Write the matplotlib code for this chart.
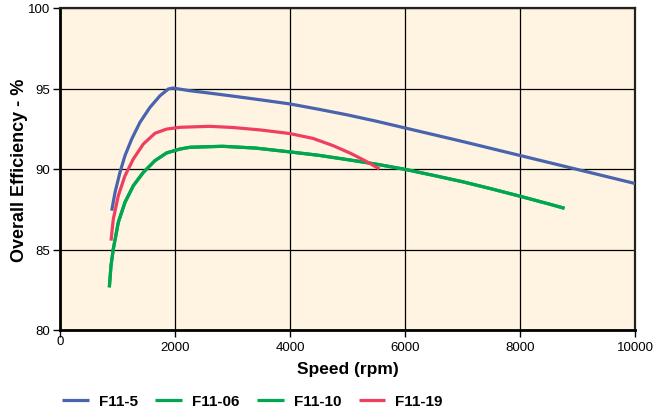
import matplotlib
matplotlib.use("Agg")
import matplotlib.pyplot as plt
import matplotlib.transforms as mtransforms
from matplotlib import font_manager

# ---- data ----
blue_x = [899, 957, 1043, 1130, 1247, 1391, 1565, 1739, 1884, 1965, 2261, 2500, 3000, 3500, 4000, 4500, 5000, 5500, 6000, 7000, 8000, 9000, 10000]
blue_y = [87.41, 88.55, 89.79, 90.83, 91.86, 92.90, 93.83, 94.55, 94.97, 95.03, 94.86, 94.76, 94.53, 94.29, 94.04, 93.71, 93.36, 92.97, 92.55, 91.71, 90.84, 89.97, 89.1]

red_x = [887, 927, 1014, 1130, 1275, 1449, 1652, 1855, 2087, 2261, 2600, 3000, 3500, 4000, 4400, 4750, 5050, 5334, 5557]
red_y = [85.55, 86.89, 88.34, 89.58, 90.62, 91.55, 92.22, 92.48, 92.59, 92.61, 92.65, 92.58, 92.42, 92.2, 91.9, 91.45, 90.98, 90.46, 90.0]

green_x = [858, 887, 927, 1014, 1130, 1275, 1449, 1652, 1855, 2087, 2261, 2828, 3400, 3978, 4500, 5042, 5500, 6000, 6500, 7000, 7500, 8000, 8500, 8774]
green_y = [82.65, 84.0, 85.03, 86.69, 87.93, 88.96, 89.79, 90.52, 91.0, 91.24, 91.35, 91.41, 91.3, 91.07, 90.85, 90.56, 90.30, 89.98, 89.6, 89.21, 88.77, 88.31, 87.83, 87.56]

series_names = ["F11-5", "F11-06", "F11-10", "F11-19"]
series_colors = ["#4a63ae", "#00a650", "#00a650", "#ef3e5e"]

x_ticks = [0, 2000, 4000, 6000, 8000, 10000]
y_ticks = [80, 85, 90, 95, 100]

# ---- fonts ----
avail = {f.name for f in font_manager.fontManager.ttflist}
tick_font = "Liberation Sans Narrow" if "Liberation Sans Narrow" in avail else "Liberation Sans"
tick_size = 10.5 if tick_font == "Liberation Sans Narrow" else 9.5

fig = plt.figure(figsize=(6.63, 4.14), dpi=100)
fig.patch.set_facecolor("white")
ax = fig.add_axes([60 / 663, 1 - 331 / 414, (635 - 60) / 663, (331 - 9) / 414])
ax.set_facecolor("#fef4e1")

lw = 2.3
l1, = ax.plot(blue_x, blue_y, color=series_colors[0], lw=lw, solid_capstyle="butt", solid_joinstyle="round", zorder=3)
l2, = ax.plot(green_x, green_y, color=series_colors[1], lw=lw, solid_capstyle="butt", solid_joinstyle="round", zorder=3)
l3, = ax.plot(green_x, green_y, color=series_colors[2], lw=lw, solid_capstyle="butt", solid_joinstyle="round", zorder=3)
l4, = ax.plot(red_x, red_y, color=series_colors[3], lw=lw, solid_capstyle="butt", solid_joinstyle="round", zorder=3)

ax.set_xlim(0, 10000)
ax.set_ylim(80, 100)
ax.set_xticks(x_ticks)
ax.set_yticks(y_ticks)
ax.set_xticklabels([str(v) for v in x_ticks], fontfamily=tick_font, fontsize=tick_size)
ax.set_yticklabels([str(v) for v in y_ticks], fontfamily=tick_font, fontsize=tick_size)
ax.tick_params(axis="both", direction="out", length=5, width=1, color="black", pad=2)
ax.tick_params(axis="x", pad=3)

# raise the "0" label slightly like the reference
lab0 = ax.get_xticklabels()[0]
lab0.set_transform(lab0.get_transform() + mtransforms.ScaledTranslation(0, 6 / 100, fig.dpi_scale_trans))

ax.grid(True, color="black", lw=0.9, zorder=1)
ax.set_axisbelow(True)
for side in ["left", "bottom"]:
    ax.spines[side].set_linewidth(2.0)
    ax.spines[side].set_color("black")
for side in ["top", "right"]:
    ax.spines[side].set_linewidth(1.6)
    ax.spines[side].set_color("#222222")

ax.set_xlabel("Speed (rpm)", fontfamily="Liberation Sans", fontweight="bold", fontsize=12.5, labelpad=6)
ax.set_ylabel("Overall Efficiency - %", fontfamily="Liberation Sans", fontweight="bold", fontsize=13)
ax.yaxis.set_label_coords(-0.055, 0.5)

leg = fig.legend([l1, l2, l3, l4], series_names, loc="center left",
                 bbox_to_anchor=(62 / 663, 1 - 402 / 414), ncol=4, frameon=False,
                 prop={"family": "Liberation Sans", "weight": "bold", "size": 11},
                 handlelength=1.75, handletextpad=0.65, columnspacing=1.15,
                 borderpad=0, borderaxespad=0)

fig.savefig("out.png", dpi=100)
